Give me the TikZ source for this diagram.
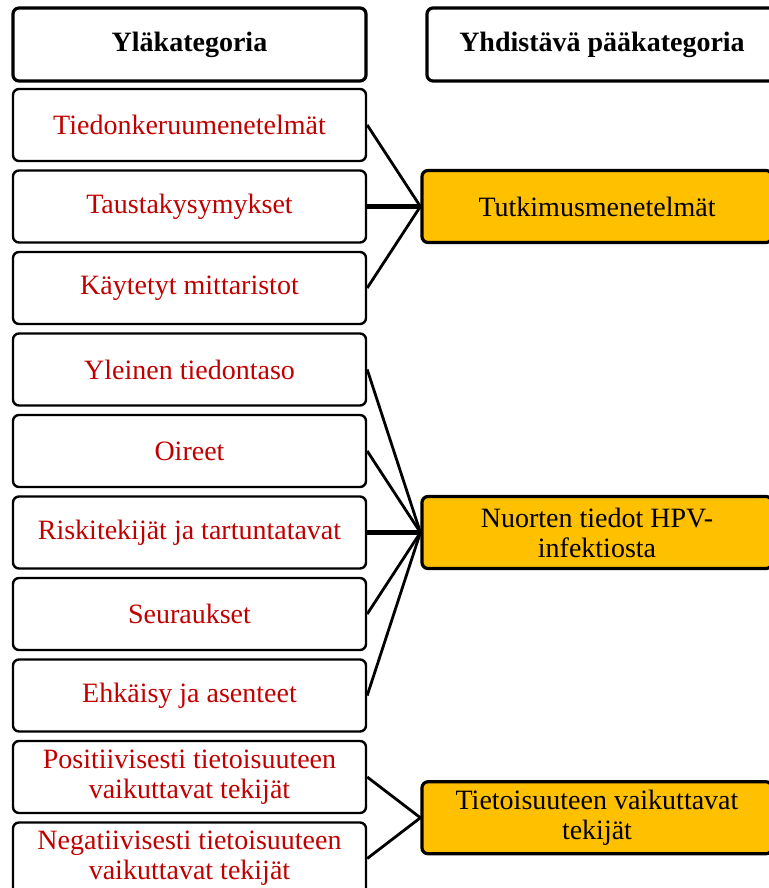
\documentclass[tikz,border=0pt]{standalone}
\usepackage{fontspec}
\setmainfont{Liberation Serif}
\usetikzlibrary{positioning, calc}
\definecolor{catred}{HTML}{C00000}
\definecolor{catgold}{HTML}{FFC000}
\tikzset{
  every node/.style={font=\fontsize{14}{15}\selectfont},
  headbox/.style={draw, line width=1.6pt, rounded corners=3pt,
    minimum width=176.5pt, minimum height=36.5pt,
    font=\fontsize{14}{15}\selectfont\bfseries},
  subbox/.style={draw, line width=1.2pt, rounded corners=3pt,
    minimum width=176.5pt, minimum height=36pt, align=center, text=catred},
  mainbox/.style={draw, fill=catgold, line width=1.6pt, rounded corners=3pt,
    minimum width=175pt, minimum height=36pt, align=center},
  link/.style={line width=1.4pt},
  node distance=3.55pt
}

\begin{document}
\begin{tikzpicture}
    \useasboundingbox (0,0) rectangle (384.5pt,-444pt);
    \node[headbox] (yla) at (94.75pt,-22.25pt) {Yläkategoria};
    \node[headbox, right=28.9pt of yla, minimum width=175pt] (paa) {Yhdistävä pääkategoria};

    \node[subbox, below=2.6pt of yla] (tiedonk) {Tiedonkeruumenetelmät};
    \node[subbox, below=of tiedonk] (tausta) {Taustakysymykset};
    \node[subbox, below=of tausta] (mittar) {Käytetyt mittaristot};
    \node[subbox, below=of mittar] (yleinen) {Yleinen tiedontaso};
    \node[subbox, below=of yleinen] (oireet) {Oireet};
    \node[subbox, below=of oireet] (riski) {Riskitekijät ja tartuntatavat};
    \node[subbox, below=of riski] (seur) {Seuraukset};
    \node[subbox, below=of seur] (ehk) {Ehkäisy ja asenteet};
    \node[subbox, below=of ehk] (posit) {Positiivisesti tietoisuuteen\\vaikuttavat tekijät};
    \node[subbox, below=of posit] (negat) {Negatiivisesti tietoisuuteen\\vaikuttavat tekijät};

    \node[mainbox, right=26.6pt of tausta] (tutk) {Tutkimusmenetelmät};
    \node[mainbox, right=26.6pt of riski] (nuoret) {Nuorten tiedot HPV-\\infektiosta};
    \node[mainbox, anchor=west] (tietoisuus) at ($(posit.east)!0.5!(negat.east)+(26.6pt,0)$)
      {Tietoisuuteen vaikuttavat\\tekijät};

    \path[link]
    (tiedonk.east) edge (tutk.west)
    (tausta.east) edge [line width=2.2pt] (tutk.west)
    (mittar.east) edge (tutk.west)
    (yleinen.east) edge (nuoret.west)
    (oireet.east) edge (nuoret.west)
    (riski.east) edge [line width=2.2pt] (nuoret.west)
    (seur.east) edge (nuoret.west)
    (ehk.east) edge (nuoret.west)
    (posit.east) edge (tietoisuus.west)
    (negat.east) edge (tietoisuus.west)
    ;
\end{tikzpicture}
\end{document}
